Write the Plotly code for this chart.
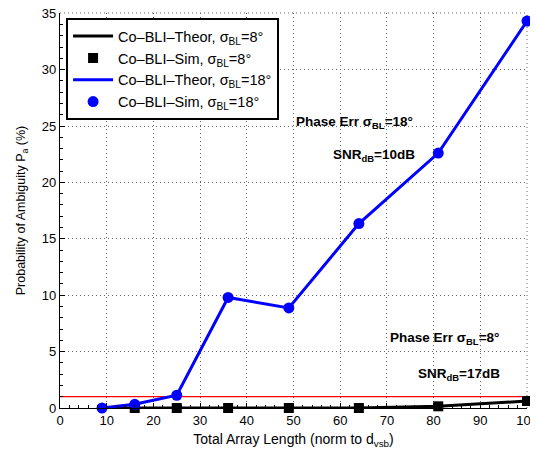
import plotly.graph_objects as go

x_len = [9, 16, 25, 36, 49, 64, 81, 100]
theor_8 = [0.0, 0.0, 0.0, 0.0, 0.0, 0.0, 0.15, 0.62]
sim_8 = [0.0, 0.0, 0.0, 0.0, 0.0, 0.0, 0.15, 0.62]
theor_18 = [0.0, 0.33, 1.13, 9.8, 8.87, 16.35, 22.6, 34.3]
sim_18 = [0.0, 0.33, 1.13, 9.8, 8.87, 16.35, 22.6, 34.3]
thresh_x = [0, 100]
thresh_y = [1, 1]

FONT = "Liberation Sans, Arial, sans-serif"

fig = go.Figure()
fig.add_trace(go.Scatter(x=thresh_x, y=thresh_y, mode="lines",
                         line=dict(color="#ff0000", width=1.2), showlegend=False))
fig.add_trace(go.Scatter(x=x_len, y=theor_8, mode="lines", cliponaxis=False,
                         line=dict(color="black", width=3),
                         name="Co\u2013BLI\u2013Theor, \u03c3<sub>BL</sub>=8\u00b0"))
fig.add_trace(go.Scatter(x=x_len[1:], y=sim_8[1:], mode="markers", cliponaxis=False,
                         marker=dict(color="black", symbol="square", size=10),
                         name="Co\u2013BLI\u2013Sim, \u03c3<sub>BL</sub>=8\u00b0"))
fig.add_trace(go.Scatter(x=x_len, y=theor_18, mode="lines", cliponaxis=False,
                         line=dict(color="#0000ff", width=3),
                         name="Co\u2013BLI\u2013Theor, \u03c3<sub>BL</sub>=18\u00b0"))
fig.add_trace(go.Scatter(x=x_len, y=sim_18, mode="markers", cliponaxis=False,
                         marker=dict(color="#0000ff", symbol="circle", size=11),
                         name="Co\u2013BLI\u2013Sim, \u03c3<sub>BL</sub>=18\u00b0"))

annots = [
    (50.1, 25.3, "Phase Err \u03c3<sub>BL</sub>=18\u00b0"),
    (58.0, 22.4, "SNR<sub>dB</sub>=10dB"),
    (70.2, 6.2, "Phase Err \u03c3<sub>BL</sub>=8\u00b0"),
    (76.2, 3.0, "SNR<sub>dB</sub>=17dB"),
]
for ax_, ay_, t in annots:
    fig.add_annotation(x=ax_, y=ay_, text="<b>" + t + "</b>", showarrow=False,
                       xanchor="left", yanchor="middle",
                       font=dict(family=FONT, size=13.5, color="black"))

# dotted frame on top and right edges (as in the reference)
fig.add_shape(type="line", xref="paper", yref="paper", x0=0, x1=1, y0=1, y1=1,
              line=dict(color="#666666", width=1, dash="1px,3px"), layer="below")
fig.add_shape(type="line", xref="paper", yref="paper", x0=1, x1=1, y0=0, y1=1,
              line=dict(color="#666666", width=1, dash="1px,3px"), layer="below")

axis_common = dict(
    showgrid=True, gridcolor="#666666", griddash="1px,3px", gridwidth=1,
    zeroline=False, showline=True, linecolor="black", linewidth=1.2,
    ticks="inside", ticklen=5, tickcolor="black", automargin=False,
    tickfont=dict(family=FONT, size=13, color="black"),
    ticklabeloverflow="allow",
    mirror=False,
)

fig.update_xaxes(range=[0, 100], dtick=10, tick0=0,
                 minor=dict(ticks="inside", ticklen=2.5, dtick=2, tickcolor="black"),
                 title=dict(text="Total Array Length (norm to d<sub>vsb</sub>)",
                            font=dict(family=FONT, size=14, color="black"), standoff=7),
                 **axis_common)
fig.update_yaxes(range=[0, 35.02], dtick=5, tick0=0,
                 minor=dict(ticks="inside", ticklen=2.5, dtick=1, tickcolor="black"),
                 title=dict(text="Probability of Ambiguity P<sub>a</sub> (%)",
                            font=dict(family=FONT, size=12.5, color="black"), standoff=13),
                 **axis_common)

# page body adds an 8px offset; compensate in size and margins
fig.update_layout(
    width=538, height=444,
    margin=dict(l=52, r=19, t=5, b=44),
    paper_bgcolor="white", plot_bgcolor="white",
    font=dict(family=FONT, size=13, color="black"),
    legend=dict(x=0.013, y=0.987, xanchor="left", yanchor="top",
                bgcolor="white", bordercolor="black", borderwidth=2,
                font=dict(family=FONT, size=14.5, color="black"),
                itemwidth=40, tracegroupgap=0),
)

fig.write_html("out.html")
